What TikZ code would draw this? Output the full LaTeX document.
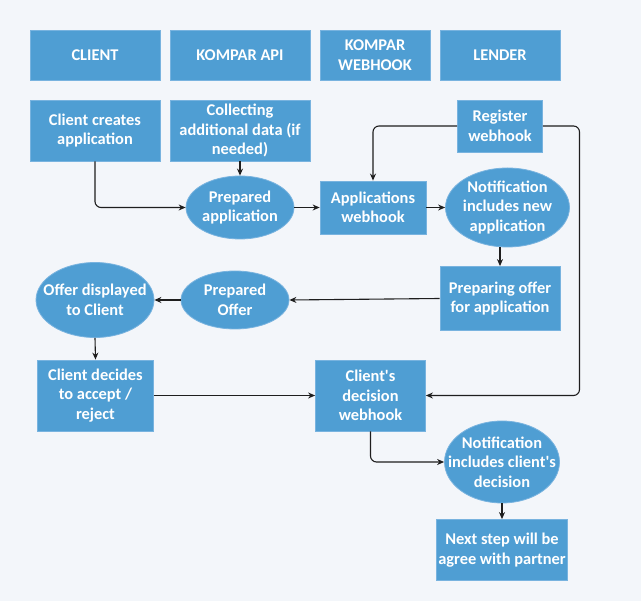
\documentclass[tikz,border=0pt]{standalone}
\usepackage{fontspec}
\setmainfont{Carlito}
\usetikzlibrary{shapes.geometric,arrows.meta,positioning}
\definecolor{bg}{HTML}{F3F6FA}
\definecolor{boxfill}{HTML}{4F9ED3}
\definecolor{boxline}{HTML}{78B3DF}
\definecolor{linec}{HTML}{1E1E1E}
\tikzset{
  txt/.style={text=white,align=center,inner sep=0pt,
    font=\fontsize{16.4}{19.5}\selectfont\bfseries},
  base/.style={fill=boxfill,draw=boxline,line width=0.8pt,txt},
  rbox/.style={base,rectangle},
  ebox/.style={fill=boxfill,draw=boxline,line width=0.8pt,ellipse,inner sep=0pt},
  etext/.style={txt},
  conn/.style={draw=linec,line width=1.1pt,-{Stealth[length=7pt,width=6pt]},rounded corners=6pt}
}
\begin{document}
\begin{tikzpicture}[x=1pt,y=-1pt]
\useasboundingbox[fill=bg] (0,0) rectangle (641,601);
% header row
\node[rbox,minimum width=130pt,minimum height=50pt] (client) at (95,55) {CLIENT};
\node[rbox,minimum width=140pt,minimum height=50pt] (api) at (240,55) {KOMPAR API};
\node[rbox,minimum width=110pt,minimum height=50pt] (wh) at (375,55) {KOMPAR\\WEBHOOK};
\node[rbox,minimum width=120pt,minimum height=50pt] (lender) at (500,55) {LENDER};
% row 2
\node[rbox,minimum width=130pt,minimum height=61pt] (create) at (95,130.5) {Client creates\\application};
\node[rbox,minimum width=140pt,minimum height=61pt] (collect) at (240,130.5) {Collecting\\additional data (if\\needed)};
\node[rbox,minimum width=85pt,minimum height=52pt] (register) at (500,126) {Register\\webhook};
% row 3
\node[ebox,minimum width=108pt,minimum height=63pt,label={[etext]center:Prepared\\application}] (prepapp) at (240,207.5) {};
\node[rbox,minimum width=106pt,minimum height=53pt] (appwh) at (373,207.5) {Applications\\webhook};
\node[ebox,minimum width=124pt,minimum height=79pt,label={[etext]center:Notification\\includes new\\application}] (notif1) at (507.5,207.5) {};
% row 4
\node[rbox,minimum width=120pt,minimum height=64pt] (prepoffer) at (500,298.5) {Preparing offer\\for application};
\node[ebox,minimum width=108pt,minimum height=58pt,label={[etext]center:Prepared\\Offer}] (poffer) at (235,300) {};
\node[ebox,minimum width=118pt,minimum height=75pt,label={[etext]center:Offer displayed\\to Client}] (display) at (95,300) {};
% row 5
\node[rbox,minimum width=116pt,minimum height=71pt] (decides) at (95.5,395.5) {Client decides\\to accept /\\reject};
\node[rbox,minimum width=110pt,minimum height=71pt] (decwh) at (370.5,395.5) {Client\textquotesingle s\\decision\\webhook};
\node[ebox,minimum width=115pt,minimum height=82pt,label={[etext]center:Notification\\includes client\textquotesingle s\\decision}] (notif2) at (502,462) {};
\node[rbox,minimum width=131pt,minimum height=61pt] (next) at (502,550) {Next step will be\\agree with partner};
% connectors
\draw[conn] (create.south) |- (prepapp.west);
\draw[conn] (collect.south) -- (prepapp.north);
\draw[conn] (prepapp.east) -- (appwh.west);
\draw[conn] (appwh.east) -- (notif1.west);
\draw[conn] (register.west) -| (appwh.north);
\coordinate (rturn) at (579.5,126);
\draw[conn] (register.east) -- (rturn) |- (decwh.east);
\draw[conn] (notif1.south -| prepoffer.north) -- (prepoffer.north);
\draw[conn] (prepoffer.west) -- (poffer.east);
\draw[conn] (poffer.west) -- (display.east);
\draw[conn] (display.south) -- (decides.north);
\draw[conn] (decides.east) -- (decwh.west);
\draw[conn] (decwh.south) |- (notif2.west);
\draw[conn] (notif2.south) -- (next.north);
\end{tikzpicture}
\end{document}
